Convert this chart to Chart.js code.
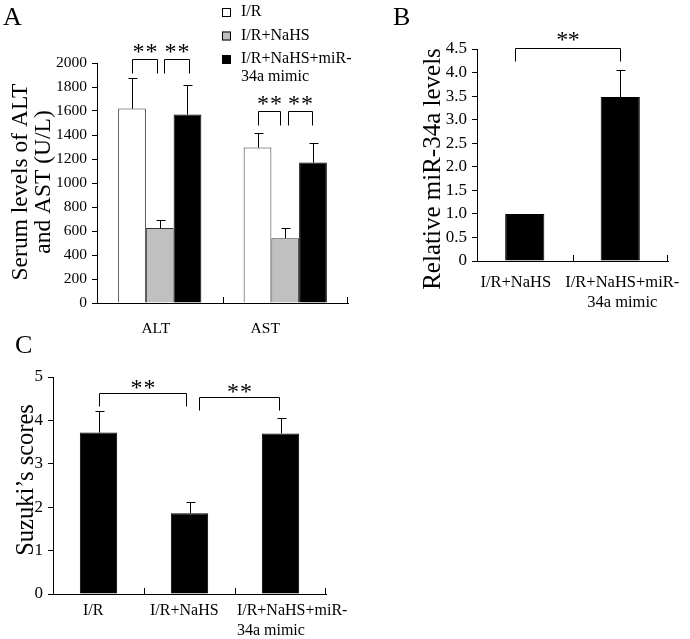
<!DOCTYPE html>
<html>
<head>
<meta charset="utf-8">
<script src="https://cdn.jsdelivr.net/npm/chart.js@4.4.1/dist/chart.umd.min.js"></script>
<style>
  html, body { margin: 0; padding: 0; background: #fff; }
  #wrap { position: relative; width: 690px; height: 639px; overflow: hidden; }
  canvas { position: absolute; }
</style>
</head>
<body>
<div id="wrap">
  <canvas id="chartA" width="352" height="340" style="left:0;top:0"></canvas>
  <canvas id="chartB" width="350" height="320" style="left:340px;top:0"></canvas>
  <canvas id="chartC" width="360" height="309" style="left:0;top:330px"></canvas>
</div>
<script>
// ---- Panel A: serum ALT / AST ----
const groupsA = ['ALT', 'AST'];
const seriesA = [['I/R'], ['I/R+NaHS'], ['I/R+NaHS+miR-', '34a mimic']];
const irA = [1620, 1295];
const nahsA = [625, 540];
const mimicA = [1570, 1170];
const irErrA = [258, 125];
const nahsErrA = [64, 86];
const mimicErrA = [250, 163];
const ticksA = [0, 200, 400, 600, 800, 1000, 1200, 1400, 1600, 1800, 2000];
const bracketTopsA = [2037, 1600];

// ---- Panel B: relative miR-34a ----
const groupsB = [['I/R+NaHS'], ['I/R+NaHS+miR-', '34a mimic']];
const mirB = [1.0, 3.48];
const mirErrB = [0, 0.57];
const ticksB = [0, 0.5, 1.0, 1.5, 2.0, 2.5, 3.0, 3.5, 4.0, 4.5];
const tickLabelsB = ['0', '0.5', '1.0', '1.5', '2.0', '2.5', '3.0', '3.5', '4.0', '4.5'];
const bracketTopB = 4.53;

// ---- Panel C: Suzuki's scores ----
const groupsC = [['I/R'], ['I/R+NaHS'], ['I/R+NaHS+miR-', '34a mimic']];
const scoresC = [3.72, 1.86, 3.70];
const scoresErrC = [0.49, 0.25, 0.36];
const ticksC = [0, 1, 2, 3, 4, 5];
const bracketTopsC = [4.62, 4.54];

const SERIF = '"Liberation Serif", "Times New Roman", serif';

// extra drawing per canvas (error bars, brackets, titles, labels, legend)
const decoOptions = {
  chartA: {
    cap: 4, leg: 14, starGap: 12, starSep: 6.5,
    brackets: [
      { from: [0, 0], to: [1, 0], level: bracketTopsA[0], dx: [0, -3] },
      { from: [1, 0], to: [2, 0], level: bracketTopsA[0], dx: [4, 2] },
      { from: [0, 1], to: [1, 1], level: bracketTopsA[1], dx: [0, -5] },
      { from: [1, 1], to: [2, 1], level: bracketTopsA[1], dx: [3, -1] }
    ],
    xLabels: { font: '15.5px ' + SERIF, baseline: 332.5, gap: 20, dx: [-4, -20], align: ['center', 'center'] },
    title: { font: '23.5px ' + SERIF, lines: ['Serum levels of ALT', 'and AST (U/L)'], x: [27, 50], y: 182 },
    letter: { text: 'A', x: 3, y: 25 },
    legend: { x: 222, box: 9, textX: 241, rows: [12.5, 36, 59.5], dy: 3.5, gap: 18, font: '16px ' + SERIF }
  },
  chartB: {
    cap: 4, leg: 13, starGap: 13, starSep: 5.8,
    brackets: [{ from: [0, 0], to: [0, 1], level: bracketTopB, dx: [-10, 0] }],
    xLabels: { font: '16.5px ' + SERIF, baseline: 287, gap: 20, dx: [-9, 2], align: ['center', 'center'] },
    title: { font: '25px ' + SERIF, lines: ['Relative miR-34a levels'], x: [100], y: 169 },
    letter: { text: 'B', x: 53, y: 25 }
  },
  chartC: {
    cap: 4, leg: 13, starGap: 10, starSep: 6.5,
    brackets: [
      { from: [0, 0], to: [0, 1], level: bracketTopsC[0], dx: [0, -4] },
      { from: [0, 1], to: [0, 2], level: bracketTopsC[1], dx: [9, -2] }
    ],
    xLabels: { font: '16px ' + SERIF, baseline: 285, gap: 19.5, dx: [-5.4, -5.2, -43.6], align: ['center', 'center', 'left'] },
    title: { font: '24.5px ' + SERIF, lines: ['Suzuki\u2019s scores'], x: [33], y: 150 },
    letter: { text: 'C', x: 15, y: 23 }
  }
};

const snap = v => Math.round(v) + 0.5;

const deco = {
  id: 'deco',
  afterDatasetsDraw(chart) {
    const o = decoOptions[chart.canvas.id];
    const ctx = chart.ctx, ys = chart.scales.y, area = chart.chartArea;
    ctx.save();
    ctx.strokeStyle = '#000';
    ctx.fillStyle = '#000';
    ctx.lineWidth = 1;

    // error bars, upper side only
    chart.data.datasets.forEach((ds, di) => {
      chart.getDatasetMeta(di).data.forEach((bar, i) => {
        const e = ds.errors ? ds.errors[i] : 0;
        if (!e) return;
        const px = snap(bar.x);
        const top = snap(ys.getPixelForValue(ds.data[i] + e));
        ctx.beginPath();
        ctx.moveTo(px, bar.y);
        ctx.lineTo(px, top);
        ctx.moveTo(px - o.cap, top);
        ctx.lineTo(px + o.cap + 1, top);
        ctx.stroke();
      });
    });

    // small inward ticks at category boundaries
    const n = chart.data.labels.length;
    const w = (area.right - area.left) / n;
    for (let k = 1; k <= n; k++) {
      const px = Math.min(snap(area.left + k * w), area.right - 0.5);
      ctx.beginPath();
      ctx.moveTo(px, area.bottom);
      ctx.lineTo(px, area.bottom - 6);
      ctx.stroke();
    }

    // significance brackets
    o.brackets.forEach(b => {
      const x1 = snap(chart.getDatasetMeta(b.from[0]).data[b.from[1]].x + b.dx[0]);
      const x2 = snap(chart.getDatasetMeta(b.to[0]).data[b.to[1]].x + b.dx[1]);
      const yt = snap(ys.getPixelForValue(b.level));
      ctx.beginPath();
      ctx.moveTo(x1, yt + o.leg);
      ctx.lineTo(x1, yt);
      ctx.lineTo(x2, yt);
      ctx.lineTo(x2, yt + o.leg);
      ctx.stroke();
      ctx.font = '24px ' + SERIF;
      ctx.textAlign = 'center';
      ctx.textBaseline = 'alphabetic';
      const mid = (x1 + x2) / 2, sy = yt - o.starGap + 11;
      ctx.fillText('*', mid - o.starSep, sy);
      ctx.fillText('*', mid + o.starSep, sy);
    });
    ctx.restore();
  },
  afterDraw(chart) {
    const o = decoOptions[chart.canvas.id];
    const ctx = chart.ctx, xs = chart.scales.x;
    ctx.save();
    ctx.fillStyle = '#000';
    ctx.strokeStyle = '#000';
    ctx.lineWidth = 1;
    ctx.textBaseline = 'alphabetic';

    // category labels
    const xl = o.xLabels;
    ctx.font = xl.font;
    chart.data.labels.forEach((lab, i) => {
      const lines = Array.isArray(lab) ? lab : [lab];
      ctx.textAlign = xl.align[i];
      const cx = xs.getPixelForValue(i) + xl.dx[i];
      lines.forEach((t, j) => ctx.fillText(t, cx, xl.baseline + j * xl.gap));
    });

    // rotated y title
    ctx.font = o.title.font;
    ctx.textAlign = 'center';
    o.title.lines.forEach((t, j) => {
      ctx.save();
      ctx.translate(o.title.x[j], o.title.y);
      ctx.rotate(-Math.PI / 2);
      ctx.fillText(t, 0, 0);
      ctx.restore();
    });

    // panel letter
    ctx.font = '26px ' + SERIF;
    ctx.textAlign = 'left';
    ctx.fillText(o.letter.text, o.letter.x, o.letter.y);

    // legend
    if (o.legend) {
      const L = o.legend;
      chart.data.datasets.forEach((ds, di) => {
        const cy = L.rows[di];
        ctx.fillStyle = ds.backgroundColor;
        ctx.fillRect(L.x, cy - L.box / 2, L.box, L.box);
        ctx.strokeRect(L.x + 0.5, cy - L.box / 2 + 0.5, L.box - 1, L.box - 1);
        ctx.fillStyle = '#000';
        ctx.font = L.font;
        seriesA[di].forEach((t, j) => ctx.fillText(t, L.textX, cy + L.dy + j * L.gap));
      });
    }
    ctx.restore();
  }
};

function yAxis(min, max, ticks, labels, width, size) {
  return {
    min: min,
    max: max,
    afterBuildTicks: s => { s.ticks = ticks.map(v => ({ value: v })); },
    afterFit: s => { s.width = width; },
    ticks: {
      color: '#000',
      padding: 5,
      font: { family: SERIF, size: size },
      callback: (v) => labels ? labels[ticks.indexOf(v)] : String(v)
    },
    grid: { drawOnChartArea: false, tickLength: 5, color: '#000' },
    border: { color: '#000', width: 1 }
  };
}

function xAxis(height) {
  return {
    grid: { display: false, drawTicks: false },
    ticks: { display: false },
    border: { color: '#000', width: 1 },
    afterFit: s => { s.height = height; }
  };
}

const baseOptions = {
  responsive: false,
  animation: false,
  devicePixelRatio: 1,
  events: []
};

new Chart(document.getElementById('chartA'), {
  type: 'bar',
  data: {
    labels: groupsA,
    datasets: [
      { label: seriesA[0].join(''), data: irA, errors: irErrA, backgroundColor: '#ffffff', borderColor: '#333333', borderWidth: 1 },
      { label: seriesA[1].join(''), data: nahsA, errors: nahsErrA, backgroundColor: '#c0c0c0', borderColor: '#333333', borderWidth: 1 },
      { label: seriesA[2].join(''), data: mimicA, errors: mimicErrA, backgroundColor: '#000000', borderColor: '#000000', borderWidth: 1 }
    ]
  },
  options: Object.assign({}, baseOptions, {
    layout: { padding: { left: 0, top: 63, right: 4, bottom: 0 } },
    plugins: { legend: { display: false }, tooltip: { enabled: false } },
    datasets: { bar: { categoryPercentage: 0.663, barPercentage: 1 } },
    scales: { x: xAxis(37), y: yAxis(0, 2000, ticksA, null, 97, 15.5) }
  }),
  plugins: [deco]
});

new Chart(document.getElementById('chartB'), {
  type: 'bar',
  data: {
    labels: groupsB,
    datasets: [
      { label: 'miR-34a', data: mirB, errors: mirErrB, backgroundColor: '#000000', borderColor: '#000000', borderWidth: 1 }
    ]
  },
  options: Object.assign({}, baseOptions, {
    layout: { padding: { left: 0, top: 49, right: 22, bottom: 0 } },
    plugins: { legend: { display: false }, tooltip: { enabled: false } },
    datasets: { bar: { categoryPercentage: 0.41, barPercentage: 1 } },
    scales: { x: xAxis(59), y: yAxis(0, 4.5, ticksB, tickLabelsB, 137, 17) }
  }),
  plugins: [deco]
});

new Chart(document.getElementById('chartC'), {
  type: 'bar',
  data: {
    labels: groupsC,
    datasets: [
      { label: 'Suzuki', data: scoresC, errors: scoresErrC, backgroundColor: '#000000', borderColor: '#000000', borderWidth: 1 }
    ]
  },
  options: Object.assign({}, baseOptions, {
    layout: { padding: { left: 0, top: 47, right: 34, bottom: 0 } },
    plugins: { legend: { display: false }, tooltip: { enabled: false } },
    datasets: { bar: { categoryPercentage: 0.41, barPercentage: 1 } },
    scales: { x: xAxis(45), y: yAxis(0, 5, ticksC, null, 53, 17) }
  }),
  plugins: [deco]
});
</script>
</body>
</html>
